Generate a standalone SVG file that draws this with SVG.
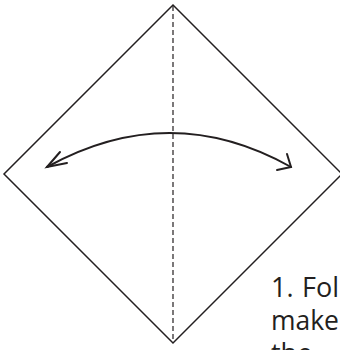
<svg xmlns="http://www.w3.org/2000/svg" width="340" height="350" viewBox="0 0 340 350">
<style>
.edge{fill:none;stroke:#231f20;stroke-width:1.5;stroke-linejoin:miter}
.fold{fill:none;stroke:#231f20;stroke-width:1.2;stroke-dasharray:5 3}
.arrow{fill:none;stroke:#231f20;stroke-width:2;stroke-linecap:round;stroke-linejoin:miter}
.label{font-family:"Open Sans","Noto Sans",sans-serif;font-size:27px;fill:#231f20}
</style>
<g id="paper">
<polygon class="edge" points="173,5 342,174 173,343 4,174"/>
</g>
<g id="connectors">
<line id="valley-fold" class="fold" x1="173" y1="6" x2="173" y2="342"/>
<g id="fold-arrow">
<path class="arrow" d="M47,167 Q170,99 291,167"/>
<path class="arrow" d="M60,152 L47,167 L67,163"/>
<path class="arrow" d="M287,154 L291,167 L277,170"/>
</g>
</g>
<g id="caption">
<text class="label" x="271" y="297">1.<tspan x="302">Fol</tspan></text>
<text class="label" x="271" y="330" textLength="68" lengthAdjust="spacingAndGlyphs">make</text>
<text class="label" x="271" y="363">the</text>
</g>
</svg>
